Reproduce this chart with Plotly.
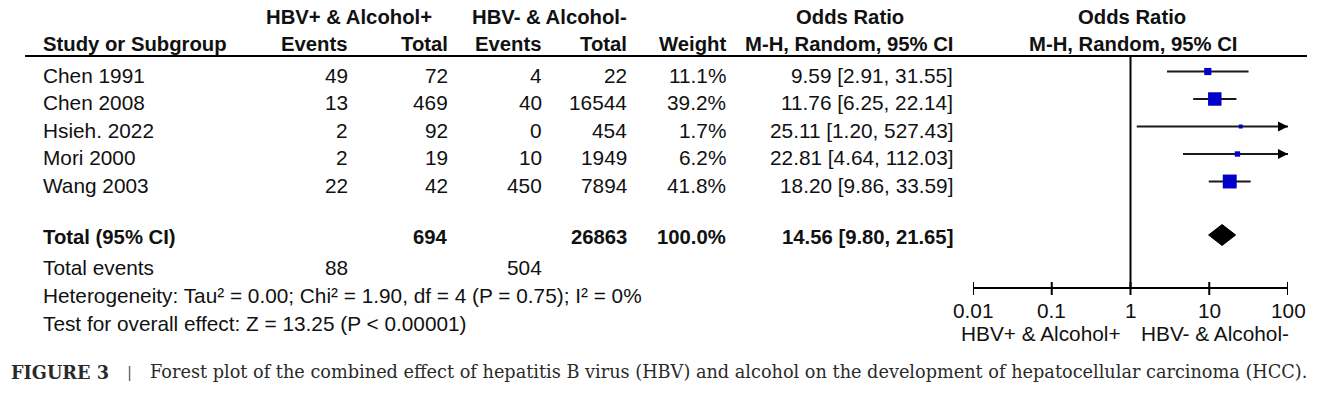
import math
import plotly.graph_objects as go

# ---------------- data ----------------
studies = ["Chen 1991", "Chen 2008", "Hsieh. 2022", "Mori 2000", "Wang 2003"]
events_pos = [49, 13, 2, 2, 22]
total_pos = [72, 469, 92, 19, 42]
events_neg = [4, 40, 0, 10, 450]
total_neg = [22, 16544, 454, 1949, 7894]
weights = [11.1, 39.2, 1.7, 6.2, 41.8]
or_est = [9.59, 11.76, 25.11, 22.81, 18.20]
ci_low = [2.91, 6.25, 1.20, 4.64, 9.86]
ci_high = [31.55, 22.14, 527.43, 112.03, 33.59]

pooled_total_pos = 694
pooled_total_neg = 26863
pooled_weight = 100.0
pooled_or = 14.56
pooled_low = 9.80
pooled_high = 21.65
pooled_events_pos = 88
pooled_events_neg = 504

heterogeneity = "Heterogeneity: Tau² = 0.00; Chi² = 1.90, df = 4 (P = 0.75); I² = 0%"
overall_effect = "Test for overall effect: Z = 13.25 (P < 0.00001)"

tick_vals = [0.01, 0.1, 1, 10, 100]
tick_text = ["0.01", "0.1", "1", "10", "100"]
favours_left = "HBV+ & Alcohol+"
favours_right = "HBV- & Alcohol-"
caption_label = "FIGURE 3"
caption_text = ("Forest plot of the combined effect of hepatitis B virus (HBV) and alcohol "
                "on the development of hepatocellular carcinoma (HCC).")

# ---------------- layout constants ----------------
W, H = 1320, 396
XMIN, XMAX = 0.01, 100
ROW0, ROWSTEP = 71.5, 27.5
TEXT_DY = 3.5
DIAMOND_Y = 235
AXIS_Y = 288
HEADER_LINE_Y = 56

FONT = "Liberation Sans, Arial, sans-serif"
FS = 20.8
FSB = 20.3
TXT = "#111111"
BLUE = "#0000C8"
LINE = "#1a1a1a"

fig = go.Figure()

row_y = [ROW0 + i * ROWSTEP for i in range(len(studies))]

# CI lines
for lo, hi, y in zip(ci_low, ci_high, row_y):
    fig.add_trace(go.Scatter(
        x=[max(lo, XMIN), min(hi, XMAX)], y=[y, y], mode="lines",
        line=dict(color=LINE, width=2), hoverinfo="skip", showlegend=False,
        cliponaxis=False))
    if hi > XMAX:
        fig.add_trace(go.Scatter(
            x=[XMAX], y=[y], mode="markers",
            marker=dict(symbol="arrow-right", size=10, color="#000000",
                        opacity=1, line=dict(width=0)),
            hoverinfo="skip", showlegend=False, cliponaxis=False))

# weight squares
fig.add_trace(go.Scatter(
    x=or_est, y=row_y, mode="markers",
    marker=dict(symbol="square", color=BLUE, opacity=1,
                size=[max(4.0, 2.15 * math.sqrt(w)) for w in weights],
                line=dict(width=0)),
    hoverinfo="skip", showlegend=False, cliponaxis=False))

# pooled diamond
half_h = 10.5
fig.add_trace(go.Scatter(
    x=[pooled_low, pooled_or, pooled_high, pooled_or, pooled_low],
    y=[DIAMOND_Y, DIAMOND_Y - half_h, DIAMOND_Y, DIAMOND_Y + half_h, DIAMOND_Y],
    mode="lines", fill="toself", fillcolor="#000000",
    line=dict(color="#000000", width=1), hoverinfo="skip", showlegend=False))

# null line at OR = 1
fig.add_trace(go.Scatter(
    x=[1, 1], y=[HEADER_LINE_Y, AXIS_Y], mode="lines",
    line=dict(color="#000000", width=2), hoverinfo="skip", showlegend=False))

# axis line + ticks
fig.add_trace(go.Scatter(
    x=[XMIN, XMAX], y=[AXIS_Y, AXIS_Y], mode="lines",
    line=dict(color="#000000", width=2), hoverinfo="skip", showlegend=False,
    cliponaxis=False))
tx, ty = [], []
for v in tick_vals:
    tx += [v, v, None]
    ty += [AXIS_Y - 6, AXIS_Y + 7, None]
fig.add_trace(go.Scatter(
    x=tx, y=ty, mode="lines", line=dict(color="#000000", width=2),
    hoverinfo="skip", showlegend=False, cliponaxis=False))

annotations = []


def txt(x, y, s, anchor="left", bold=False, ref="paper", size=None, font=FONT, color=TXT):
    if size is None:
        size = FSB if bold else FS
    if bold:
        s = "<b>" + s + "</b>"
    xv = x / W if ref == "paper" else x
    annotations.append(dict(
        x=xv, y=y, xref=ref, yref="y", text=s, showarrow=False,
        xanchor=anchor, yanchor="middle", borderpad=0,
        font=dict(family=font, size=size, color=color)))


# column positions (pixels)
X_NAME = 42
X_EV1, X_TOT1, X_EV2, X_TOT2, X_W, X_OR = 349, 449, 543, 628, 727, 954
FOREST_CX = 1132

# headers
HDR1, HDR2 = 17, 44
txt(349, HDR1, "HBV+ &amp; Alcohol+", "center", True)
txt(549, HDR1, "HBV- &amp; Alcohol-", "center", True)
txt(850, HDR1, "Odds Ratio", "center", True)
txt(FOREST_CX, HDR1, "Odds Ratio", "center", True)
txt(X_NAME, HDR2, "Study or Subgroup", "left", True)
txt(X_EV1, HDR2, "Events", "right", True)
txt(X_TOT1, HDR2, "Total", "right", True)
txt(X_EV2, HDR2, "Events", "right", True)
txt(X_TOT2, HDR2, "Total", "right", True)
txt(X_W, HDR2, "Weight", "right", True)
txt(X_OR, HDR2, "M-H, Random, 95% CI", "right", True)
txt(FOREST_CX + 1, HDR2, "M-H, Random, 95% CI", "center", True)

# study rows
for i, name in enumerate(studies):
    y = row_y[i] + TEXT_DY
    txt(X_NAME, y, name)
    txt(X_EV1, y, str(events_pos[i]), "right")
    txt(X_TOT1, y, str(total_pos[i]), "right")
    txt(X_EV2, y, str(events_neg[i]), "right")
    txt(X_TOT2, y, str(total_neg[i]), "right")
    txt(X_W, y, f"{weights[i]:.1f}%", "right")
    txt(X_OR, y, f"{or_est[i]:.2f} [{ci_low[i]:.2f}, {ci_high[i]:.2f}]", "right")

# total row
yt = DIAMOND_Y + 2
txt(X_NAME, yt, "Total (95% CI)", "left", True)
txt(X_TOT1, yt, str(pooled_total_pos), "right", True)
txt(X_TOT2, yt, str(pooled_total_neg), "right", True)
txt(X_W, yt, f"{pooled_weight:.1f}%", "right", True)
txt(X_OR, yt, f"{pooled_or:.2f} [{pooled_low:.2f}, {pooled_high:.2f}]", "right", True)

txt(X_NAME, 267, "Total events")
txt(X_EV1, 267, str(pooled_events_pos), "right")
txt(X_EV2, 267, str(pooled_events_neg), "right")
txt(X_NAME, 295, heterogeneity)
txt(X_NAME, 323, overall_effect)

# axis labels
for v, lab in zip(tick_vals, tick_text):
    txt(math.log10(v), 310, lab, "center", ref="x")
txt(1122, 333, favours_left.replace("&", "&amp;"), "right")
txt(1140, 333, favours_right.replace("&", "&amp;"), "left")

# caption
SERIF = "DejaVu Serif, Liberation Serif, serif"
txt(10, 372, caption_label, "left", True, size=17.7, font=SERIF, color="#2a2a2a")
txt(129, 372, "|", "center", size=15, font=SERIF, color="#555555")
txt(149, 372, caption_text, "left", size=17.7, font=SERIF, color="#2a2a2a")

# header separator line
shapes = [dict(type="line", xref="paper", yref="y", x0=25 / W, x1=1307 / W,
               y0=HEADER_LINE_Y, y1=HEADER_LINE_Y,
               line=dict(color="#000000", width=2))]

fig.update_layout(
    width=W, height=H, margin=dict(l=0, r=0, t=0, b=0),
    paper_bgcolor="white", plot_bgcolor="rgba(0,0,0,0)",
    xaxis=dict(type="log", range=[math.log10(XMIN), math.log10(XMAX)],
               domain=[973 / W, 1288 / W], visible=False, fixedrange=True),
    yaxis=dict(range=[H, 0], domain=[0, 1], visible=False, fixedrange=True),
    annotations=annotations, shapes=shapes, showlegend=False,
)

fig.write_html("out.html", config={"displayModeBar": False},
               post_script="document.body.style.margin='0';document.body.style.overflow='hidden';")
